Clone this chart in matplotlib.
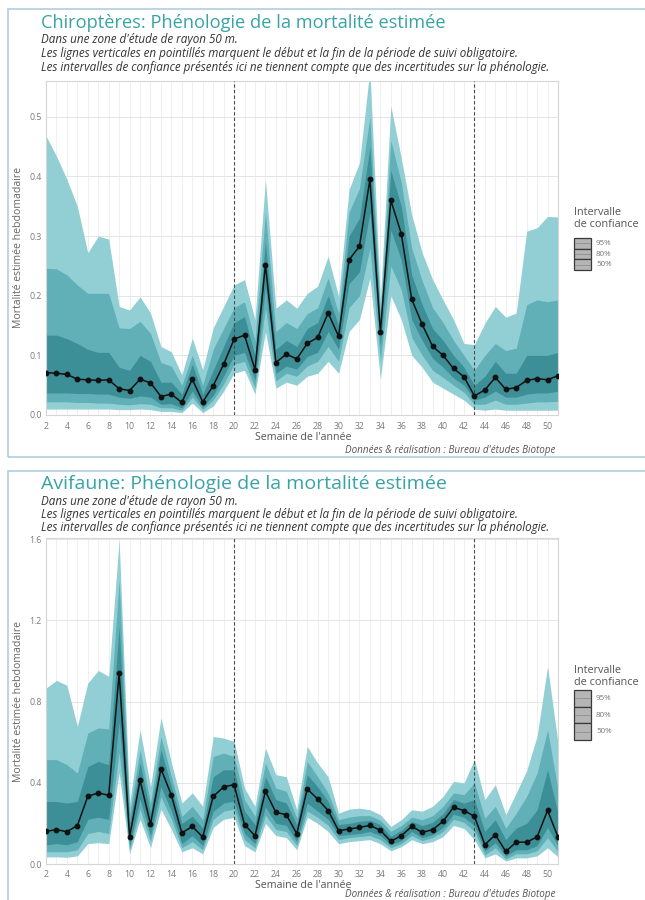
import matplotlib
matplotlib.use('Agg')
import matplotlib.pyplot as plt
from matplotlib import font_manager
from matplotlib.patches import Rectangle

# ---------------- data ----------------
weeks = list(range(2, 52))
x_ticks = list(range(2, 51, 2))
legend_labels = ['95%', '80%', '50%']
period_start, period_end = 20, 43

chiro_title = "Chiroptères: Phénologie de la mortalité estimée"
avi_title = "Avifaune: Phénologie de la mortalité estimée"
sub_lines = ["Dans une zone d'étude de rayon 50 m.",
             "Les lignes verticales en pointillés marquent le début et la fin de la période de suivi obligatoire.",
             "Les intervalles de confiance présentés ici ne tiennent compte que des incertitudes sur la phénologie."]
caption = "Données & réalisation : Bureau d'études Biotope"
y_label = "Mortalité estimée hebdomadaire"
x_label = "Semaine de l'année"
legend_title = "Intervalle\nde confiance"
chiro_yticks = [0.0, 0.1, 0.2, 0.3, 0.4, 0.5]
avi_yticks = [0.0, 0.4, 0.8, 1.2, 1.6]

chiro_mean = [0.071, 0.070, 0.068, 0.060, 0.059, 0.058, 0.059, 0.044, 0.041, 0.060,
              0.054, 0.031, 0.035, 0.021, 0.060, 0.022, 0.049, 0.085, 0.127, 0.134,
              0.076, 0.252, 0.088, 0.102, 0.094, 0.120, 0.130, 0.171, 0.132, 0.260,
              0.283, 0.395, 0.139, 0.360, 0.304, 0.194, 0.152, 0.115, 0.100, 0.078,
              0.064, 0.032, 0.042, 0.063, 0.043, 0.046, 0.058, 0.061, 0.059, 0.066]
chiro_hi95 = [0.468, 0.434, 0.395, 0.350, 0.272, 0.300, 0.295, 0.182, 0.176, 0.198,
              0.171, 0.115, 0.106, 0.067, 0.129, 0.076, 0.146, 0.182, 0.218, 0.227,
              0.160, 0.395, 0.179, 0.193, 0.179, 0.204, 0.216, 0.266, 0.199, 0.378,
              0.423, 0.580, 0.193, 0.518, 0.431, 0.336, 0.272, 0.227, 0.193, 0.160,
              0.120, 0.118, 0.154, 0.182, 0.164, 0.171, 0.308, 0.314, 0.333, 0.332]
chiro_hi80 = [0.246, 0.245, 0.235, 0.218, 0.204, 0.204, 0.204, 0.146, 0.145, 0.157,
              0.137, 0.088, 0.082, 0.050, 0.100, 0.050, 0.110, 0.145, 0.180, 0.190,
              0.125, 0.340, 0.140, 0.155, 0.145, 0.170, 0.180, 0.230, 0.170, 0.340,
              0.380, 0.500, 0.170, 0.460, 0.390, 0.280, 0.225, 0.180, 0.155, 0.125,
              0.100, 0.075, 0.100, 0.120, 0.108, 0.112, 0.185, 0.193, 0.190, 0.193]
chiro_hi50 = [0.134, 0.134, 0.128, 0.120, 0.110, 0.105, 0.105, 0.080, 0.075, 0.100,
              0.090, 0.055, 0.055, 0.035, 0.085, 0.035, 0.075, 0.115, 0.155, 0.165,
              0.100, 0.290, 0.110, 0.125, 0.115, 0.145, 0.155, 0.200, 0.150, 0.300,
              0.330, 0.450, 0.155, 0.410, 0.350, 0.235, 0.185, 0.145, 0.125, 0.100,
              0.080, 0.050, 0.065, 0.090, 0.070, 0.070, 0.100, 0.100, 0.100, 0.105]
chiro_lo50 = [0.037, 0.037, 0.037, 0.036, 0.036, 0.035, 0.035, 0.030, 0.028, 0.032,
              0.030, 0.018, 0.019, 0.012, 0.040, 0.013, 0.033, 0.065, 0.100, 0.105,
              0.058, 0.215, 0.070, 0.082, 0.077, 0.098, 0.105, 0.140, 0.110, 0.220,
              0.240, 0.340, 0.115, 0.310, 0.260, 0.160, 0.125, 0.095, 0.080, 0.062,
              0.050, 0.025, 0.030, 0.040, 0.030, 0.030, 0.035, 0.037, 0.037, 0.040]
chiro_lo80 = [0.022, 0.022, 0.022, 0.021, 0.021, 0.020, 0.020, 0.018, 0.017, 0.019,
              0.018, 0.012, 0.012, 0.008, 0.030, 0.009, 0.025, 0.052, 0.085, 0.090,
              0.045, 0.180, 0.057, 0.070, 0.065, 0.082, 0.090, 0.115, 0.090, 0.180,
              0.200, 0.280, 0.090, 0.250, 0.210, 0.130, 0.100, 0.075, 0.063, 0.050,
              0.038, 0.018, 0.018, 0.025, 0.018, 0.018, 0.020, 0.022, 0.022, 0.023]
chiro_lo95 = [0.010, 0.010, 0.010, 0.010, 0.010, 0.010, 0.010, 0.009, 0.009, 0.010,
              0.009, 0.006, 0.006, 0.004, 0.020, 0.004, 0.015, 0.040, 0.070, 0.075,
              0.035, 0.140, 0.045, 0.055, 0.050, 0.065, 0.070, 0.090, 0.070, 0.140,
              0.160, 0.230, 0.060, 0.200, 0.160, 0.100, 0.080, 0.055, 0.045, 0.035,
              0.025, 0.010, 0.008, 0.010, 0.008, 0.008, 0.008, 0.008, 0.008, 0.008]

avi_mean = [0.161, 0.169, 0.159, 0.189, 0.333, 0.350, 0.338, 0.940, 0.133, 0.412,
            0.197, 0.469, 0.338, 0.153, 0.185, 0.133, 0.333, 0.379, 0.391, 0.194,
            0.139, 0.358, 0.254, 0.243, 0.149, 0.369, 0.320, 0.263, 0.164, 0.172,
            0.180, 0.190, 0.166, 0.112, 0.139, 0.185, 0.156, 0.169, 0.210, 0.279,
            0.263, 0.235, 0.095, 0.144, 0.062, 0.107, 0.108, 0.133, 0.264, 0.133]
avi_hi95 = [0.866, 0.904, 0.880, 0.678, 0.891, 0.953, 0.924, 1.597, 0.300, 0.661,
            0.380, 0.720, 0.500, 0.300, 0.350, 0.284, 0.628, 0.620, 0.604, 0.374,
            0.284, 0.571, 0.440, 0.430, 0.267, 0.579, 0.497, 0.430, 0.250, 0.270,
            0.275, 0.267, 0.243, 0.185, 0.218, 0.267, 0.260, 0.284, 0.333, 0.407,
            0.399, 0.514, 0.317, 0.390, 0.243, 0.350, 0.460, 0.630, 0.973, 0.596]
avi_hi80 = [0.514, 0.514, 0.489, 0.448, 0.645, 0.670, 0.665, 1.400, 0.250, 0.563,
            0.300, 0.628, 0.430, 0.235, 0.284, 0.218, 0.530, 0.546, 0.530, 0.317,
            0.235, 0.497, 0.374, 0.358, 0.226, 0.505, 0.430, 0.350, 0.218, 0.231,
            0.238, 0.238, 0.215, 0.161, 0.189, 0.231, 0.218, 0.238, 0.284, 0.350,
            0.341, 0.400, 0.226, 0.284, 0.177, 0.250, 0.333, 0.448, 0.661, 0.366]
avi_hi50 = [0.308, 0.308, 0.300, 0.308, 0.480, 0.505, 0.489, 1.170, 0.200, 0.497,
            0.250, 0.563, 0.380, 0.200, 0.235, 0.177, 0.430, 0.464, 0.464, 0.260,
            0.194, 0.430, 0.317, 0.300, 0.194, 0.440, 0.380, 0.308, 0.194, 0.200,
            0.210, 0.215, 0.194, 0.136, 0.166, 0.210, 0.189, 0.205, 0.248, 0.317,
            0.300, 0.317, 0.161, 0.218, 0.120, 0.177, 0.200, 0.267, 0.464, 0.250]
avi_lo50 = [0.095, 0.100, 0.095, 0.110, 0.220, 0.230, 0.220, 0.700, 0.090, 0.320,
            0.140, 0.380, 0.260, 0.100, 0.140, 0.090, 0.260, 0.300, 0.310, 0.150,
            0.100, 0.280, 0.200, 0.190, 0.110, 0.300, 0.260, 0.220, 0.140, 0.145,
            0.150, 0.160, 0.140, 0.095, 0.115, 0.160, 0.130, 0.145, 0.180, 0.245,
            0.230, 0.190, 0.065, 0.105, 0.040, 0.070, 0.070, 0.090, 0.180, 0.090]
avi_lo80 = [0.060, 0.060, 0.060, 0.070, 0.150, 0.160, 0.150, 0.550, 0.070, 0.270,
            0.110, 0.330, 0.220, 0.080, 0.110, 0.070, 0.220, 0.260, 0.270, 0.120,
            0.080, 0.240, 0.170, 0.160, 0.090, 0.260, 0.230, 0.190, 0.120, 0.130,
            0.135, 0.140, 0.120, 0.080, 0.100, 0.140, 0.115, 0.130, 0.160, 0.220,
            0.205, 0.160, 0.045, 0.080, 0.025, 0.050, 0.050, 0.065, 0.130, 0.060]
avi_lo95 = [0.035, 0.035, 0.033, 0.040, 0.100, 0.105, 0.100, 0.450, 0.050, 0.220,
            0.080, 0.270, 0.170, 0.060, 0.080, 0.050, 0.180, 0.220, 0.230, 0.090,
            0.060, 0.200, 0.140, 0.130, 0.070, 0.230, 0.200, 0.160, 0.100, 0.110,
            0.115, 0.120, 0.100, 0.065, 0.085, 0.120, 0.100, 0.110, 0.135, 0.190,
            0.175, 0.120, 0.030, 0.050, 0.015, 0.030, 0.030, 0.040, 0.080, 0.035]

# ---------------- style ----------------
band_colors = ['#92cfd5', '#62b0b7', '#3d8f97']
title_color = '#38a3a6'
W, H = 645, 900

names = {f.name for f in font_manager.fontManager.ttflist}
italic_names = {f.name for f in font_manager.fontManager.ttflist if f.style == 'italic'}
FONT = next((n for n in ['Open Sans', 'Noto Sans', 'Lato'] if n in names), 'DejaVu Sans')
IFONT = next((n for n in ['Open Sans', 'Noto Sans', 'Lato', 'Liberation Sans'] if n in italic_names), 'DejaVu Sans')
plt.rcParams['font.family'] = [FONT, 'DejaVu Sans']

fig = plt.figure(figsize=(W / 100, H / 100), dpi=100)
renderer = fig.canvas.get_renderer()


def fx(px):
    return px / W


def fy(py):
    return 1 - py / H


def fit(t, target_w):
    w = t.get_window_extent(renderer).width
    t.set_fontsize(t.get_fontsize() * target_w / w)


def draw_legend(title_y, box_top, box_h):
    fig.text(fx(574), fy(title_y), legend_title, fontsize=7.8, color='#555555',
             ha='left', va='center', linespacing=1.05)
    for i, lab in enumerate(legend_labels):
        top = box_top + i * box_h
        fig.add_artist(Rectangle((fx(574), fy(top + box_h)), fx(17), box_h / H,
                                 transform=fig.transFigure, fc='#b5b5b5', ec='#3a3a3a', lw=0.9))
        fig.add_artist(plt.Line2D([fx(575), fx(590)], [fy(top + box_h / 2)] * 2,
                                  transform=fig.transFigure, color='#8e8e8e', lw=0.6))
        fig.text(fx(596), fy(top + box_h / 2), lab, fontsize=5.8, color='#777777',
                 ha='left', va='center')


def panel(box_top, box_bot, ax_top, ax_bot, text_off, title, mean, bands, yticks, ylim_top,
          leg_pos, tick_y, xlab_y, cap_y):
    fig.add_artist(Rectangle((fx(8), fy(box_bot)), 1.0, (box_bot - box_top) / H,
                             transform=fig.transFigure, fill=False, ec='#a8cadf', lw=1.1))
    t = fig.text(fx(41), fy(28 + text_off), title, color=title_color, fontsize=12,
                 va='baseline', ha='left')
    fit(t, 402)
    for s, yy in zip(sub_lines, [40, 53.5, 67]):
        fig.text(fx(41), fy(yy + text_off), s, fontsize=8.4, style='italic',
                 family=[IFONT, 'DejaVu Sans'], color='#333333', va='center', ha='left')

    ax = fig.add_axes([fx(46), fy(ax_bot), fx(558 - 46), (ax_bot - ax_top) / H])
    ax.set_axisbelow(True)
    for (lo, hi), c in zip(bands, band_colors):
        ax.fill_between(weeks, lo, hi, color=c, lw=0, zorder=2)
    ax.plot(weeks, mean, color='#111111', lw=1.1, zorder=4)
    ax.plot(weeks, mean, 'o', color='#111111', ms=3.2, zorder=5)
    for wk in (period_start, period_end):
        ax.axvline(wk, color='#4a4a4a', ls=(0, (3, 2)), lw=0.8, zorder=3)
    ax.set_xlim(2, 51)
    ax.set_ylim(0, ylim_top)
    ax.set_xticks(x_ticks)
    ax.set_xticks(weeks, minor=True)
    ax.set_yticks(yticks)
    ax.set_yticklabels([f'{v:.1f}' for v in yticks])
    ax.grid(axis='x', which='both', color='#ececec', lw=0.6)
    ax.grid(axis='y', which='major', color='#e4e4e4', lw=0.7)
    ax.tick_params(which='both', length=0, labelsize=6.3, labelcolor='#7a7a7a', pad=3)
    ax.tick_params(axis='x', pad=(tick_y - ax_bot) - 4)
    for sp in ax.spines.values():
        sp.set_color('#d6d6d6')
        sp.set_linewidth(0.8)
    ax.set_ylabel(y_label, fontsize=7.6, color='#666666', labelpad=4)
    fig.text(fx(303), fy(xlab_y), x_label, fontsize=7.7, color='#555555', ha='center', va='center')
    cp = fig.text(fx(555), fy(cap_y), caption, fontsize=6.5, style='italic',
                  family=[IFONT, 'DejaVu Sans'], color='#555555', ha='right', va='center')
    fit(cp, 209)
    draw_legend(*leg_pos)
    return ax


panel(9, 457, 81, 415, 0, chiro_title, chiro_mean,
      [(chiro_lo95, chiro_hi95), (chiro_lo80, chiro_hi80), (chiro_lo50, chiro_hi50)],
      chiro_yticks, 0.56, (218.5, 238, 10.7), 424, 437.5, 450)
panel(471, 930, 538, 864, 461, avi_title, avi_mean,
      [(avi_lo95, avi_hi95), (avi_lo80, avi_hi80), (avi_lo50, avi_hi50)],
      avi_yticks, 1.605, (676.5, 690, 16.7), 872.5, 885, 894)

fig.savefig('out.png', dpi=100)
